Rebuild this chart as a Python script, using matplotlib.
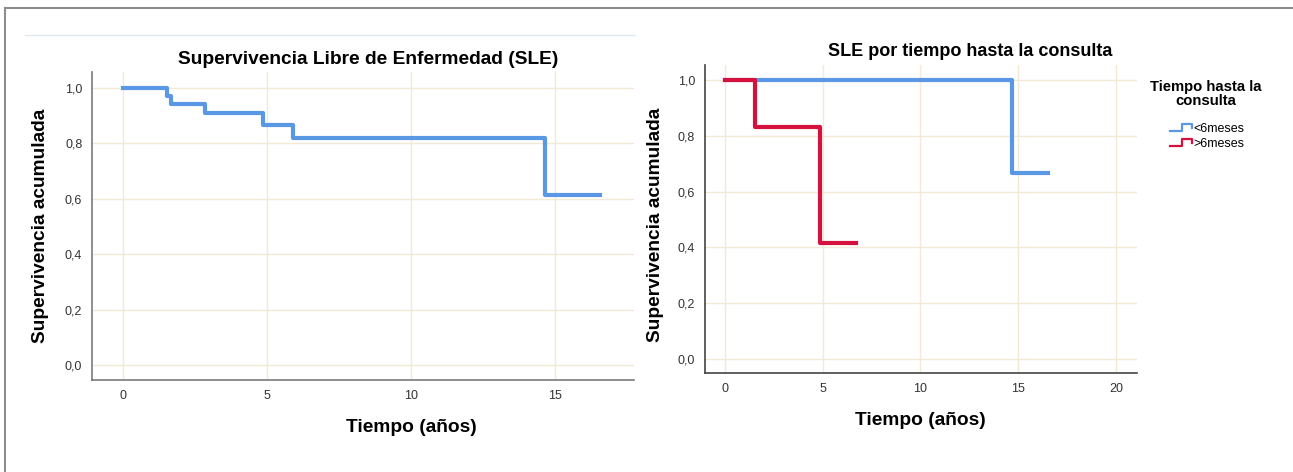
import matplotlib
matplotlib.use("Agg")
import matplotlib.pyplot as plt
from matplotlib.lines import Line2D
from matplotlib.legend_handler import HandlerBase

plt.rcParams['font.family'] = ['Liberation Sans', 'DejaVu Sans']

# Kaplan-Meier estimates
t_all = [0, 1.52, 1.66, 2.85, 4.86, 5.89, 14.65, 16.55]
s_all = [1.0, 0.971, 0.943, 0.911, 0.868, 0.820, 0.615, 0.615]

t_lt6 = [0, 14.68, 16.5]
s_lt6 = [1.0, 0.667, 0.667]
t_gt6 = [0, 1.53, 4.86, 6.7]
s_gt6 = [1.0, 0.833, 0.417, 0.417]

yticks = [0.0, 0.2, 0.4, 0.6, 0.8, 1.0]
ytick_labels = ['0,0', '0,2', '0,4', '0,6', '0,8', '1,0']
xticks_left = [0, 5, 10, 15]
xticks_right = [0, 5, 10, 15, 20]
group_names = ['<6meses', '>6meses']

blue = '#5A97E4'
red = '#D5123D'
grid_col = '#F2EAD4'
W, H = 1293, 472


class StepHandler(HandlerBase):
    def create_artists(self, legend, orig_handle, xdescent, ydescent,
                       width, height, fontsize, trans):
        w, h = width, height
        xs = [0, 0.55 * w, 0.55 * w, w, w]
        ys = [0.1 * h, 0.1 * h, 0.85 * h, 0.85 * h, 0.45 * h]
        ln = Line2D(xs, ys, color=orig_handle.get_color(), lw=1.6, transform=trans)
        return [ln]


def style_axes(ax, xticks, xlim, ylim, spine_col):
    ax.set_xlim(*xlim)
    ax.set_ylim(*ylim)
    ax.set_xticks(xticks)
    ax.set_yticks(yticks)
    ax.set_yticklabels(ytick_labels)
    ax.tick_params(length=0, labelsize=9, colors='#333333')
    ax.tick_params(axis='y', pad=7)
    ax.tick_params(axis='x', pad=7)
    ax.grid(True, color=grid_col, lw=1)
    ax.set_axisbelow(True)
    for s in ['top', 'right']:
        ax.spines[s].set_visible(False)
    for s in ['left', 'bottom']:
        ax.spines[s].set_color(spine_col)
        ax.spines[s].set_linewidth(1.2)


fig = plt.figure(figsize=(12.93, 4.72), dpi=100)

# left panel
ax1 = fig.add_axes([0.0712, 0.1949, 0.4192, 0.6525])
style_axes(ax1, xticks_left, (-1.08, 17.74), (-0.054, 1.058), '#7a7a7a')
ax1.step(t_all, s_all, where='post', color=blue, lw=3)
ax1.set_ylabel('Supervivencia acumulada', fontsize=13.8, fontweight='bold')
ax1.yaxis.set_label_coords(-0.079, 0.5)
ax1.set_xlabel('Tiempo (años)', fontsize=13.8, fontweight='bold')
ax1.xaxis.set_label_coords(0.589, -0.127)
fig.text(368 / W, 1 - 60 / H, 'Supervivencia Libre de Enfermedad (SLE)',
         ha='center', va='center', fontsize=13.8, fontweight='bold')

# right panel
ax2 = fig.add_axes([0.5452, 0.2097, 0.3341, 0.6525])
style_axes(ax2, xticks_right, (-1.02, 21.07), (-0.05, 1.054), '#444444')
l1, = ax2.step(t_lt6, s_lt6, where='post', color=blue, lw=3)
l2, = ax2.step(t_gt6, s_gt6, where='post', color=red, lw=3)
ax2.set_ylabel('Supervivencia acumulada', fontsize=13.8, fontweight='bold')
ax2.yaxis.set_label_coords(-0.095, 0.48)
ax2.set_xlabel('Tiempo (años)', fontsize=13.8, fontweight='bold')
ax2.xaxis.set_label_coords(0.498, -0.127)
fig.text(970 / W, 1 - 52 / H, 'SLE por tiempo hasta la consulta',
         ha='center', va='center', fontsize=13, fontweight='bold')

# legend
fig.text(1206 / W, 1 - 94 / H, 'Tiempo hasta la\nconsulta', ha='center', va='center',
         fontsize=10.7, fontweight='bold', linespacing=1.0)
ax2.legend([l1, l2], group_names,
           handler_map={Line2D: StepHandler()},
           loc='upper left', bbox_to_anchor=(1161 / W, 1 - 114 / H),
           bbox_transform=fig.transFigure, frameon=False,
           fontsize=9, handlelength=1.75, handletextpad=0.1,
           labelspacing=0.25, borderpad=0.2)

# outer frame and separator
fig.add_artist(Line2D([5 / W, 5 / W], [0, 1 - 8 / H], color='#8c8c8c', lw=1.5))
fig.add_artist(Line2D([5 / W, 1.0], [1 - 8 / H, 1 - 8 / H], color='#8c8c8c', lw=1.5))
fig.add_artist(Line2D([25 / W, 635 / W], [1 - 35 / H, 1 - 35 / H], color='#e2e9ef', lw=1))

fig.savefig('out.png', dpi=100)
